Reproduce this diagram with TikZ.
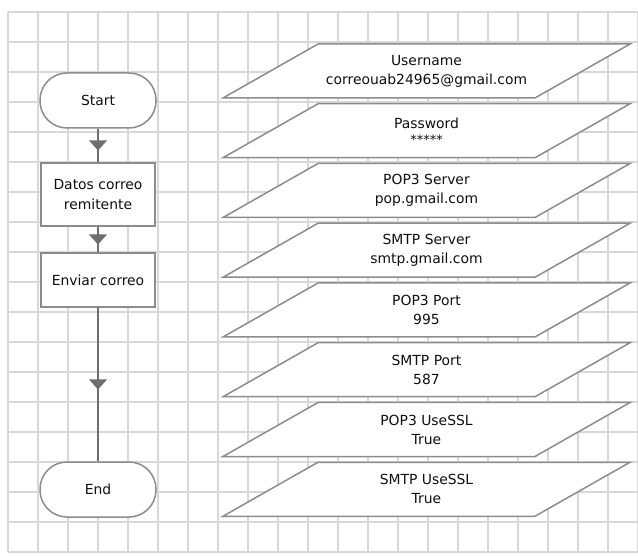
\documentclass[tikz,border=0pt]{standalone}
\usepackage{fontspec}
\setmainfont{DejaVu Sans}
\usetikzlibrary{decorations.markings}

\definecolor{gridc}{HTML}{D8D8D8}
\definecolor{edge}{HTML}{8C8C8C}
\definecolor{linec}{HTML}{6E6E6E}
\definecolor{txt}{HTML}{101010}

\tikzset{
  gridline/.style={draw=gridc, line width=1.2pt},
  label/.style={font=\fontsize{13.9}{19}\selectfont, text=txt, align=center, inner sep=0pt},
  term/.style={label, draw=edge, fill=white, line width=1.5pt,
    rounded corners=27pt, minimum width=116pt, minimum height=55pt},
  proc/.style={label, font=\fontsize{13.9}{20}\selectfont, draw=edge, fill=white,
    line width=1.5pt, minimum width=114pt},
  iobox/.style={draw=edge, fill=white, line width=1.5pt, line join=miter},
  flow/.style={draw=linec, line width=1.3pt, postaction={decorate},
    decoration={markings, mark=at position 0.5 with
      {\fill[linec] (5pt,0pt) -- (-5pt,9pt) -- (-5pt,-9pt) -- cycle;}}}
}

% input/output block: name, centre y, text
\newcommand\ioblock[3]{%
  \coordinate (#1c) at (426.5,#2);
  \draw[iobox] ([shift={(-203.5,27)}]#1c) -- ++(95,-54) -- ++(312,0) -- ++(-95,54) -- cycle;
  \node[label] (#1) at (#1c) {#3};
}

\begin{document}
\begin{tikzpicture}[x=1pt,y=-1pt]
\useasboundingbox (0,0) rectangle (638,556);
\fill[white] (0,0) rectangle (638,556);

% background grid
\foreach \i in {0,...,21} \draw[gridline] (8+30*\i,12) -- (8+30*\i,552);
\foreach \j in {0,...,18} \draw[gridline] (8,12+30*\j) -- (638,12+30*\j);

% main flow
\node[term] (start) at (98,100.5) {Start};
\node[proc, minimum height=63pt] (datos) at (98,194.5) {Datos correo\\remitente};
\node[proc, minimum height=54pt] (enviar) at (98,280) {Enviar correo};
\node[term] (end) at (98,489.5) {End};

\draw[flow] (start) -- (datos);
\draw[flow] (datos) -- (enviar);
\draw[flow] (enviar) -- (end);

% configuration values
\ioblock{user}{71}{Username\\correouab24965@gmail.com}
\ioblock{pass}{130.75}{Password\\[-3pt]{\fontsize{13}{19}\selectfont *****}}
\ioblock{popsrv}{190.5}{POP3 Server\\pop.gmail.com}
\ioblock{smtpsrv}{250.25}{SMTP Server\\smtp.gmail.com}
\ioblock{popport}{310}{POP3 Port\\995}
\ioblock{smtpport}{369.75}{SMTP Port\\587}
\ioblock{popssl}{429.5}{POP3 UseSSL\\True}
\ioblock{smtpssl}{489.25}{SMTP UseSSL\\True}
\end{tikzpicture}
\end{document}
